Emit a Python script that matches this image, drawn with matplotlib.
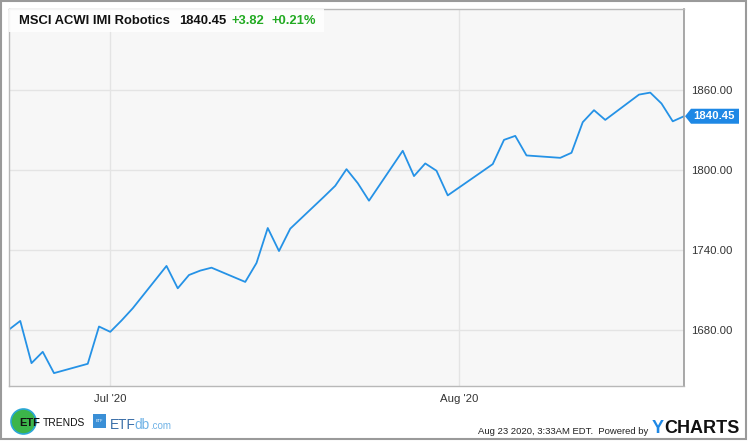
import matplotlib
matplotlib.use("Agg")
import matplotlib.pyplot as plt
import matplotlib.transforms as mtransforms
from matplotlib.patches import Rectangle, Circle, Polygon
import pandas as pd

plt.rcParams["font.family"] = ["Liberation Sans", "DejaVu Sans"]

# daily closes, MSCI ACWI IMI Robotics
dates = [
    "2020-06-22", "2020-06-23", "2020-06-24", "2020-06-25", "2020-06-26",
    "2020-06-29", "2020-06-30", "2020-07-01", "2020-07-02", "2020-07-03",
    "2020-07-06", "2020-07-07", "2020-07-08", "2020-07-09", "2020-07-10",
    "2020-07-13", "2020-07-14", "2020-07-15", "2020-07-16", "2020-07-17",
    "2020-07-20", "2020-07-21", "2020-07-22", "2020-07-23", "2020-07-24",
    "2020-07-27", "2020-07-28", "2020-07-29", "2020-07-30", "2020-07-31",
    "2020-08-03", "2020-08-04", "2020-08-05", "2020-08-06", "2020-08-07",
    "2020-08-10", "2020-08-11", "2020-08-12", "2020-08-13", "2020-08-14",
    "2020-08-17", "2020-08-18", "2020-08-19", "2020-08-20", "2020-08-21",
]
values = [
    1680.2, 1686.7, 1655.0, 1663.5, 1647.5,
    1654.5, 1682.5, 1678.5, 1687.0, 1696.2,
    1728.0, 1711.2, 1721.2, 1724.5, 1726.7,
    1716.0, 1730.2, 1756.5, 1739.2, 1756.0,
    1780.0, 1788.2, 1800.7, 1790.2, 1777.0,
    1814.5, 1795.5, 1805.0, 1799.5, 1781.0,
    1798.6, 1804.5, 1822.7, 1825.7, 1811.0,
    1809.2, 1813.0, 1836.0, 1845.0, 1837.7,
    1856.7, 1858.2, 1850.0, 1836.63, 1840.45,
]
y_ticks = [1680, 1740, 1800, 1860]
x_ticks = ["2020-07-01", "2020-08-01"]
x_tick_labels = ["Jul '20", "Aug '20"]

title = "MSCI ACWI IMI Robotics"
last_value = "1840.45"
change = "+3.82"
change_pct = "+0.21%"

W, H = 750, 442
fig = plt.figure(figsize=(W / 100, H / 100), dpi=100)
fig.patch.set_facecolor("white")
px = mtransforms.IdentityTransform()


def fx(p):
    return p / W


def fy(p):
    return 1 - p / H


# outer frame
fig.patches.append(Rectangle((fx(1), fy(439)), fx(746) - fx(1), fy(1) - fy(439),
                             transform=fig.transFigure, fill=False,
                             edgecolor="#9a9a9a", lw=1.5))

ax = fig.add_axes([fx(9), fy(385.5), fx(684) - fx(9), fy(9) - fy(385.5)])
ax.set_facecolor("#f7f7f7")

x = pd.to_datetime(dates)
ax.plot(x, values, color="#2592e6", lw=1.3)

ax.set_xlim(pd.Timestamp("2020-06-22"), pd.Timestamp("2020-08-21"))
ax.set_ylim(1638.2, 1921.0)

ax.set_xticks(pd.to_datetime(x_ticks))
ax.set_xticklabels(x_tick_labels)
ax.set_yticks(y_ticks)
ax.yaxis.set_major_formatter(matplotlib.ticker.StrMethodFormatter("{x:.2f}"))
ax.yaxis.tick_right()
ax.tick_params(axis="both", length=0, labelsize=8.2, colors="#333333")
ax.tick_params(axis="y", pad=5)
ax.tick_params(axis="x", pad=6)

ax.grid(True, color="#e4e4e4", lw=1)
ax.set_axisbelow(True)
for side in ["left", "bottom", "top"]:
    ax.spines[side].set_color("#b8b8b8")
    ax.spines[side].set_linewidth(1)
ax.spines["right"].set_color("#999999")
ax.spines["right"].set_linewidth(1.2)

# last value tag on the right axis
_, ty = ax.transData.transform((ax.get_xlim()[1], values[-1]))
tx = ax.transAxes.transform((1, 0))[0]
fig.patches.append(Polygon([(tx + 1, ty), (tx + 7, ty + 7.5), (tx + 55, ty + 7.5),
                            (tx + 55, ty - 7.5), (tx + 7, ty - 7.5)],
                           closed=True, transform=px, fc="#1e88e5", ec="none"))
fig.text((tx + 30) / W, ty / H, last_value, color="white", fontsize=8.2,
         fontweight="bold", ha="center", va="center")

# title box
ax.add_patch(Rectangle((0, 1 - 23 / 376.5), (324 - 9) / 675, 23 / 376.5,
                       transform=ax.transAxes, fc="white", ec="none",
                       alpha=0.85, zorder=3))
fig.text(fx(19), fy(21), title, fontsize=9.4, fontweight="bold",
         color="#111111", va="center", ha="left", zorder=5)
fig.text(fx(179), fy(21), last_value, fontsize=9.4, fontweight="bold",
         color="#111111", va="center", ha="left", zorder=5)
fig.text(fx(232), fy(21), change, fontsize=9.4, fontweight="bold",
         color="#22aa22", va="center", ha="left", zorder=5)
fig.text(fx(272), fy(21), change_pct, fontsize=9.4, fontweight="bold",
         color="#22aa22", va="center", ha="left", zorder=5)

# footer
fig.text(fx(648), fy(431.5), "Aug 23 2020, 3:33AM EDT.  Powered by", fontsize=6.8,
         color="#222222", ha="right", va="center")
fig.text(fx(651.5), fy(433), "Y", fontsize=13, fontweight="bold",
         color="#1e88e5", ha="left", va="baseline")
fig.text(fx(664.5), fy(433), "CHARTS", fontsize=13, fontweight="bold",
         color="#111111", ha="left", va="baseline")

# logos bottom left
fig.patches.append(Circle((23.5, H - 421.5), 12.5, transform=px,
                          fc="#3cb54a", ec="#2aa7d6", lw=1.2))
fig.text(fx(19), fy(425.5), "ETF", fontsize=8, fontweight="bold",
         color="#111111", ha="left", va="baseline")
fig.text(fx(43), fy(425.5), "TRENDS", fontsize=7.4, color="#111111",
         ha="left", va="baseline")
fig.patches.append(Rectangle((93, H - 428), 13, 14, transform=px,
                             fc="#3a8fd6", ec="none"))
fig.text(fx(99.5), fy(421), "ETF", fontsize=2.8, color="white",
         ha="center", va="center")
fig.text(fx(110), fy(429), "ETF", fontsize=9.8, color="#3a6ea8",
         ha="left", va="baseline")
fig.text(fx(134.5), fy(429), "db", fontsize=9.8, color="#6fb2e6",
         ha="left", va="baseline")
fig.text(fx(150), fy(429), ".com", fontsize=7, color="#6fb2e6",
         ha="left", va="baseline")

fig.savefig("out.png", dpi=100, facecolor="white")
